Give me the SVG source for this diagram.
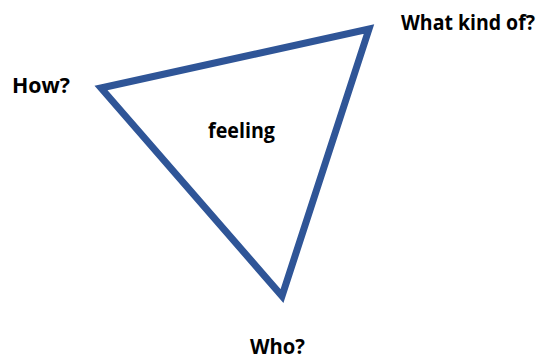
<svg xmlns="http://www.w3.org/2000/svg" width="544" height="359" viewBox="0 0 544 359">
<style>
.lbl{font-family:"Open Sans","Liberation Sans",sans-serif;font-weight:bold;font-size:21px;fill:#000}
.tri{fill:none;stroke:#2F5597;stroke-width:7;stroke-linejoin:miter}
</style>
<rect width="544" height="359" fill="#fff"/>
<g id="connectors">
<polygon id="triangle" class="tri" points="101,88 369,29 282,296"/>
</g>
<g id="node-what"><text class="lbl" x="401" y="30" textLength="134" lengthAdjust="spacingAndGlyphs">What kind of?</text></g>
<g id="node-how"><text class="lbl" x="12" y="93" textLength="58" lengthAdjust="spacingAndGlyphs">How?</text></g>
<g id="node-feeling"><text class="lbl" x="208" y="138" textLength="67" lengthAdjust="spacingAndGlyphs">feeling</text></g>
<g id="node-who"><text class="lbl" x="250" y="354" textLength="55" lengthAdjust="spacingAndGlyphs">Who?</text></g>
</svg>
